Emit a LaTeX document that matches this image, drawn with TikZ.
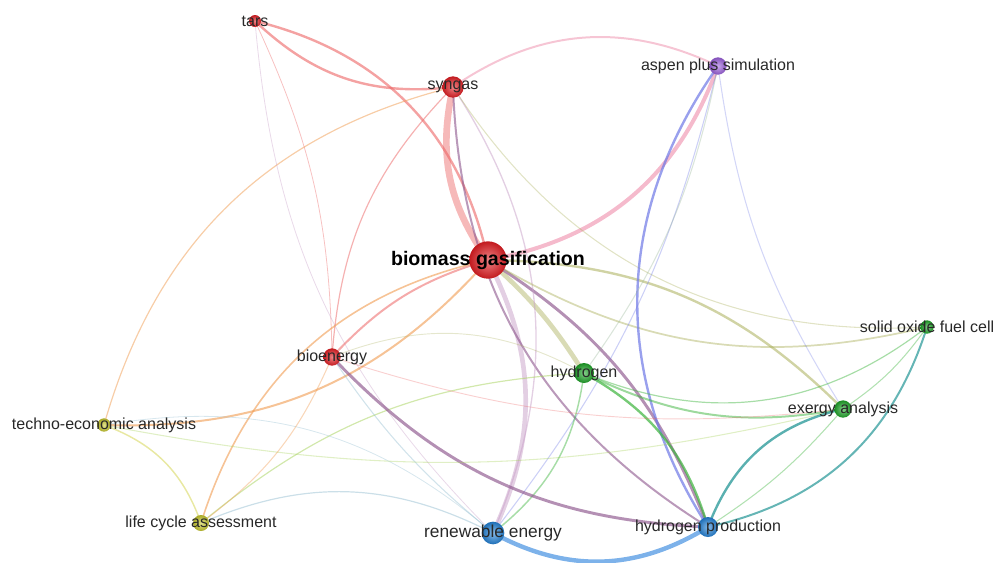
\documentclass[tikz,border=0pt]{standalone}
\usepackage{fontspec}
\setmainfont{Liberation Sans}
\definecolor{cRed}{RGB}{228,30,35}
\definecolor{cGreen}{RGB}{30,165,40}
\definecolor{cBlue}{RGB}{35,130,215}
\definecolor{cYellow}{RGB}{200,200,45}
\definecolor{cPurple}{RGB}{155,95,220}
\definecolor{eRed}{RGB}{236,100,100}
\definecolor{ePink}{RGB}{238,140,170}
\definecolor{eRB}{RGB}{140,85,140}
\definecolor{eRBl}{RGB}{200,160,200}
\definecolor{eRG}{RGB}{170,175,90}
\definecolor{eRY}{RGB}{240,155,80}
\definecolor{eGB}{RGB}{35,150,150}
\definecolor{eG}{RGB}{60,180,60}
\definecolor{eB}{RGB}{70,145,225}
\definecolor{eBP}{RGB}{110,120,230}
\definecolor{eYG}{RGB}{165,210,90}
\definecolor{eYB}{RGB}{140,185,205}
\definecolor{eY}{RGB}{210,210,70}
\definecolor{eGP}{RGB}{150,180,150}
\definecolor{lbl}{RGB}{40,40,40}
\tikzset{
  link/.style={draw=#1, line cap=round},
  kw/.style={circle, inner sep=0pt, minimum size=#1},
  red kw/.style={shading=radial, inner color=cRed!55!white, outer color=cRed!85!black},
  green kw/.style={shading=radial, inner color=cGreen!55!white, outer color=cGreen!85!black},
  blue kw/.style={shading=radial, inner color=cBlue!55!white, outer color=cBlue!85!black},
  yellow kw/.style={shading=radial, inner color=cYellow!55!white, outer color=cYellow!85!black},
  purple kw/.style={shading=radial, inner color=cPurple!55!white, outer color=cPurple!85!black},
  lab/.style={text=lbl, font=\fontsize{12pt}{14pt}\selectfont, inner sep=0pt},
}
\begin{document}
\begin{tikzpicture}[x=0.75pt,y=-0.75pt]
\useasboundingbox (0,0) rectangle (994,562);
% centres
\coordinate (tars) at (255,21);
\coordinate (syn) at (453,87);
\coordinate (asp) at (718,66);
\coordinate (bg) at (488,260);
\coordinate (sofc) at (927,327);
\coordinate (bio) at (332,357);
\coordinate (hyd) at (584,373);
\coordinate (ex) at (843,409);
\coordinate (tea) at (104,425);
\coordinate (lca) at (201,523);
\coordinate (re) at (493,533);
\coordinate (hp) at (708,527);
% links
\draw[link=eRed, line width=5pt, opacity=.45] (bg) to[bend left=24] (syn);
\draw[link=ePink, line width=3pt, opacity=.6] (bg) to[bend right=30] (asp);
\draw[link=ePink, line width=1.5pt, opacity=.5] (syn) to[bend left=30] (asp);
\draw[link=eRed, line width=1.8pt, opacity=.6] (tars) to[bend right=25] (syn);
\draw[link=eRed, line width=1.8pt, opacity=.6] (tars) to[bend left=32] (bg);
\draw[link=eRed, line width=0.9pt, opacity=.5] (syn) to[bend right=20] (bio);
\draw[link=eRY, line width=0.9pt, opacity=.5] (syn) to[bend right=30] (tea);
\draw[link=eRed, line width=0.6pt, opacity=.4] (tars) to[bend left=12] (bio);
\draw[link=eRBl, line width=0.6pt, opacity=.4] (tars) to[bend right=20] (re);
\draw[link=eRed, line width=1.5pt, opacity=.55] (bg) to[bend right=15] (bio);
\draw[link=eRY, line width=1.5pt, opacity=.6] (bg) to[bend left=25] (tea);
\draw[link=eRY, line width=1.2pt, opacity=.6] (bg) to[bend right=30] (lca);
\draw[link=eRG, line width=3.5pt, opacity=.45] (bg) to[bend left=8] (hyd);
\draw[link=eRBl, line width=3.5pt, opacity=.5] (bg) to[bend left=26] (re);
\draw[link=eRB, line width=2.2pt, opacity=.65] (bg) to[bend left=18] (hp);
\draw[link=eRB, line width=1.5pt, opacity=.6] (syn) to[bend right=28] (hp);
\draw[link=eRBl, line width=1pt, opacity=.5] (syn) to[bend left=28] (re);
\draw[link=eRG, line width=1.8pt, opacity=.55] (bg) to[bend left=22] (ex);
\draw[link=eRG, line width=1.3pt, opacity=.45] (bg) to[bend right=22] (sofc);
\draw[link=eRG, line width=0.8pt, opacity=.35] (syn) to[bend right=30] (sofc);
\draw[link=eBP, line width=1.8pt, opacity=.7] (asp) to[bend right=34] (hp);
\draw[link=eBP, line width=0.8pt, opacity=.35] (asp) to[bend left=12] (re);
\draw[link=eBP, line width=0.8pt, opacity=.3] (asp) to[bend right=12] (ex);
\draw[link=eGP, line width=0.8pt, opacity=.35] (asp) to[bend left=12] (hyd);
\draw[link=eG, line width=1.8pt, opacity=.7] (hyd) to[bend left=22] (hp);
\draw[link=eG, line width=1.5pt, opacity=.5] (hyd) to[bend right=18] (ex);
\draw[link=eG, line width=0.9pt, opacity=.45] (hyd) to[bend right=30] (sofc);
\draw[link=eG, line width=1.1pt, opacity=.45] (hyd) to[bend left=22] (re);
\draw[link=eYG, line width=0.9pt, opacity=.5] (hyd) to[bend right=18] (lca);
\draw[link=eB, line width=3.3pt, opacity=.7] (re) to[bend right=30] (hp);
\draw[link=eYB, line width=0.9pt, opacity=.45] (lca) to[bend left=25] (re);
\draw[link=eRB, line width=2.2pt, opacity=.65] (bio) to[bend right=22] (hp);
\draw[link=eYB, line width=0.8pt, opacity=.4] (bio) to[bend right=8] (re);
\draw[link=eYB, line width=0.6pt, opacity=.35] (tea) to[bend left=25] (re);
\draw[link=eYG, line width=0.8pt, opacity=.35] (tea) to[bend right=12] (ex);
\draw[link=eY, line width=1.1pt, opacity=.5] (tea) to[bend left=25] (lca);
\draw[link=eRY, line width=0.8pt, opacity=.4] (lca) to[bend right=15] (bio);
\draw[link=eGB, line width=1.8pt, opacity=.75] (ex) to[bend right=28] (hp);
\draw[link=eG, line width=0.8pt, opacity=.4] (ex) to[bend left=8] (hp);
\draw[link=eGB, line width=1.5pt, opacity=.7] (sofc) to[bend left=30] (hp);
\draw[link=eG, line width=0.8pt, opacity=.4] (sofc) to[bend left=10] (ex);
\draw[link=eRG, line width=0.7pt, opacity=.3] (bio) to[bend left=25] (hyd);
\draw[link=eRed, line width=0.7pt, opacity=.3] (bio) to[bend right=12] (ex);
% nodes
\node[kw=9pt, red kw] (nTars) at (tars) {};
\node[kw=16pt, red kw] (nSyn) at (syn) {};
\node[kw=13pt, purple kw] (nAsp) at (asp) {};
\node[kw=28pt, red kw] (nBg) at (bg) {};
\node[kw=10pt, green kw] (nSofc) at (sofc) {};
\node[kw=13pt, red kw] (nBio) at (bio) {};
\node[kw=15pt, green kw] (nHyd) at (hyd) {};
\node[kw=13pt, green kw] (nEx) at (ex) {};
\node[kw=10pt, yellow kw] (nTea) at (tea) {};
\node[kw=12pt, yellow kw] (nLca) at (lca) {};
\node[kw=17pt, blue kw] (nRe) at (re) {};
\node[kw=15pt, blue kw] (nHp) at (hp) {};
% labels
\node[lab] (lTars) at (tars) {tars};
\node[lab] (lSyn) at (syn) {syngas};
\node[lab] (lAsp) at (asp) {aspen plus simulation};
\node[lab, text=black, font=\fontsize{14.7pt}{17pt}\selectfont\bfseries] (lBg) at (bg) {biomass gasification};
\node[lab] (lSofc) at (sofc) {solid oxide fuel cell};
\node[lab] (lBio) at (bio) {bioenergy};
\node[lab] (lHyd) at (hyd) {hydrogen};
\node[lab] (lEx) at (ex) {exergy analysis};
\node[lab] (lTea) at (tea) {techno-economic analysis};
\node[lab] (lLca) at (lca) {life cycle assessment};
\node[lab, font=\fontsize{13pt}{15pt}\selectfont] (lRe) at (re) {renewable energy};
\node[lab] (lHp) at (hp) {hydrogen production};
\end{tikzpicture}
\end{document}
